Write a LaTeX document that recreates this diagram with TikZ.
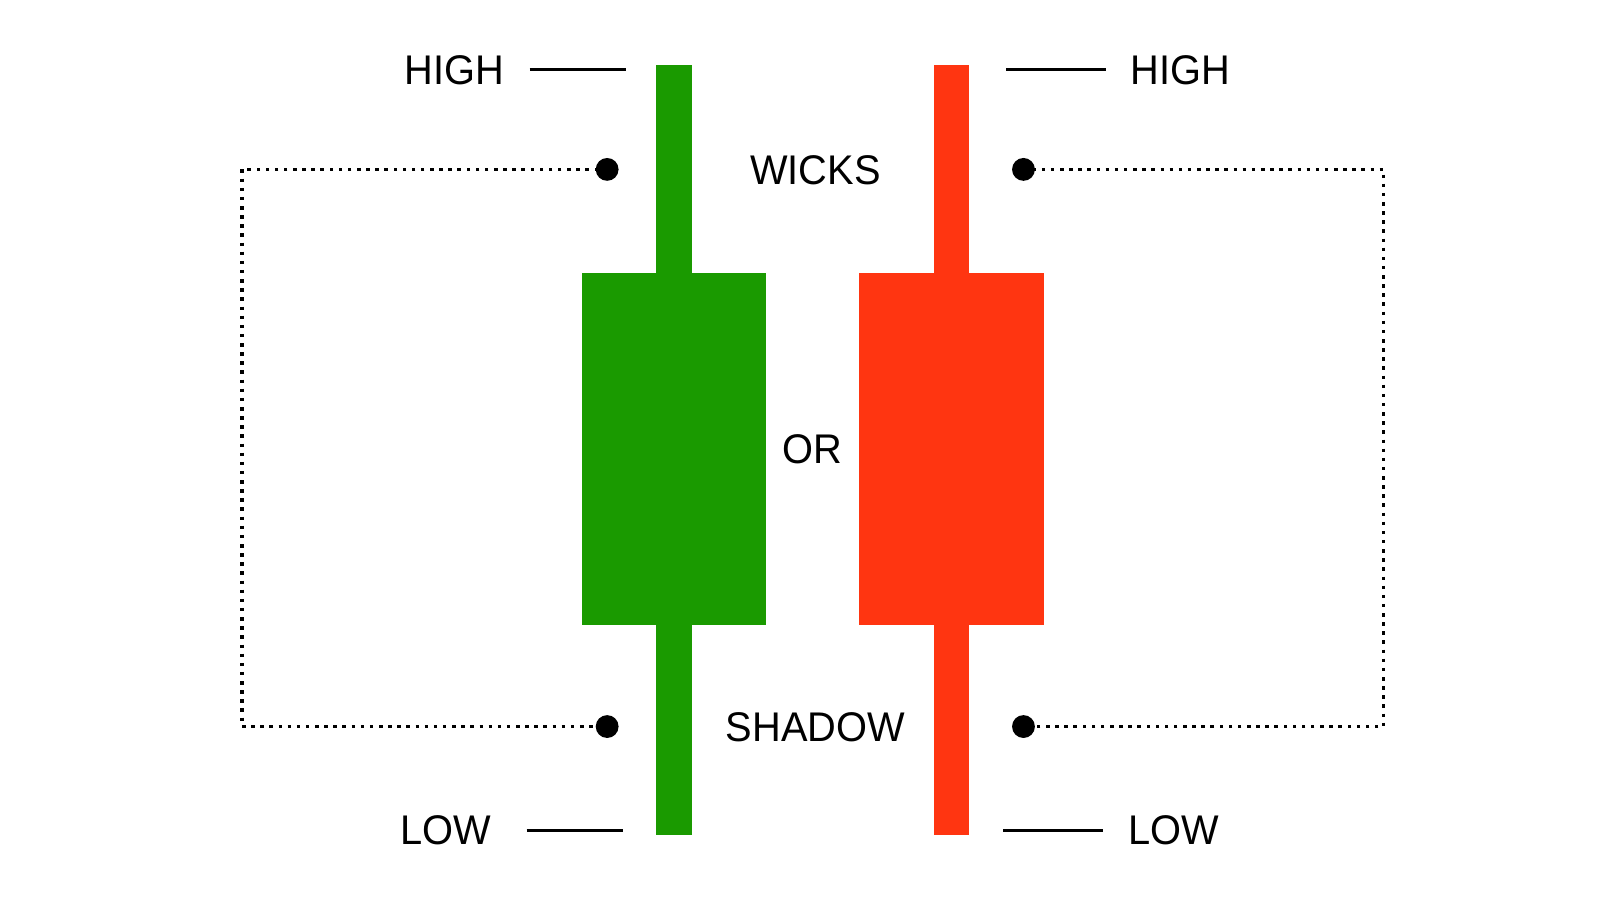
\documentclass[tikz,border=0pt]{standalone}
\usepackage{fontspec}
\setmainfont{Liberation Sans}
\definecolor{cgreen}{HTML}{1A9A00}
\definecolor{cred}{HTML}{FF3511}
\begin{document}
\begin{tikzpicture}[x=0.010204cm,y=-0.010204cm,
  lbl/.style={font=\fontsize{11.8}{14}\selectfont, inner sep=0pt, xscale=0.96},
  dotc/.style={circle,fill=black,minimum size=6.5pt,inner sep=0pt},
  dline/.style={black,line width=1pt,dash pattern=on 1pt off 1.6pt},
  tick/.style={black,line width=0.8pt}]
\useasboundingbox (0,0) rectangle (1568,882);
\fill[white] (0,0) rectangle (1568,882);
% green candle
\fill[cgreen] (643,64) rectangle (678,818);
\fill[cgreen] (570,268) rectangle (751,612);
% red candle
\fill[cred] (915,64) rectangle (950,818);
\fill[cred] (842,268) rectangle (1023,612);
% dots
\node[dotc] (d1) at (595,166) {};
\node[dotc] (d2) at (595,712) {};
\node[dotc] (d3) at (1003,166) {};
\node[dotc] (d4) at (1003,712) {};
\draw[dline] (d1.center) -- (237,166) -- (237,712) -- (d2.center);
\draw[dline] (d3.center) -- (1356,166) -- (1356,712) -- (d4.center);
% labels
\node[lbl] (h1) at (445,69) {HIGH};
\node[lbl] (h2) at (1157,69) {HIGH};
\node[lbl] (l1) at (437,814) {LOW};
\node[lbl] (l2) at (1150,814) {LOW};
\node[lbl] (w) at (799,167) {WICKS};
\node[lbl] (o) at (796,440) {OR};
\node[lbl] (s) at (799,713) {SHADOW};
\coordinate (a1) at (519,68); \coordinate (a2) at (613,68);
\coordinate (b1) at (986,68); \coordinate (b2) at (1084,68);
\coordinate (c1) at (516,814); \coordinate (c2) at (611,814);
\coordinate (e1) at (983,814); \coordinate (e2) at (1081,814);
\draw[tick] (a1) -- (a2);
\draw[tick] (b1) -- (b2);
\draw[tick] (c1) -- (c2);
\draw[tick] (e1) -- (e2);
\end{tikzpicture}
\end{document}
